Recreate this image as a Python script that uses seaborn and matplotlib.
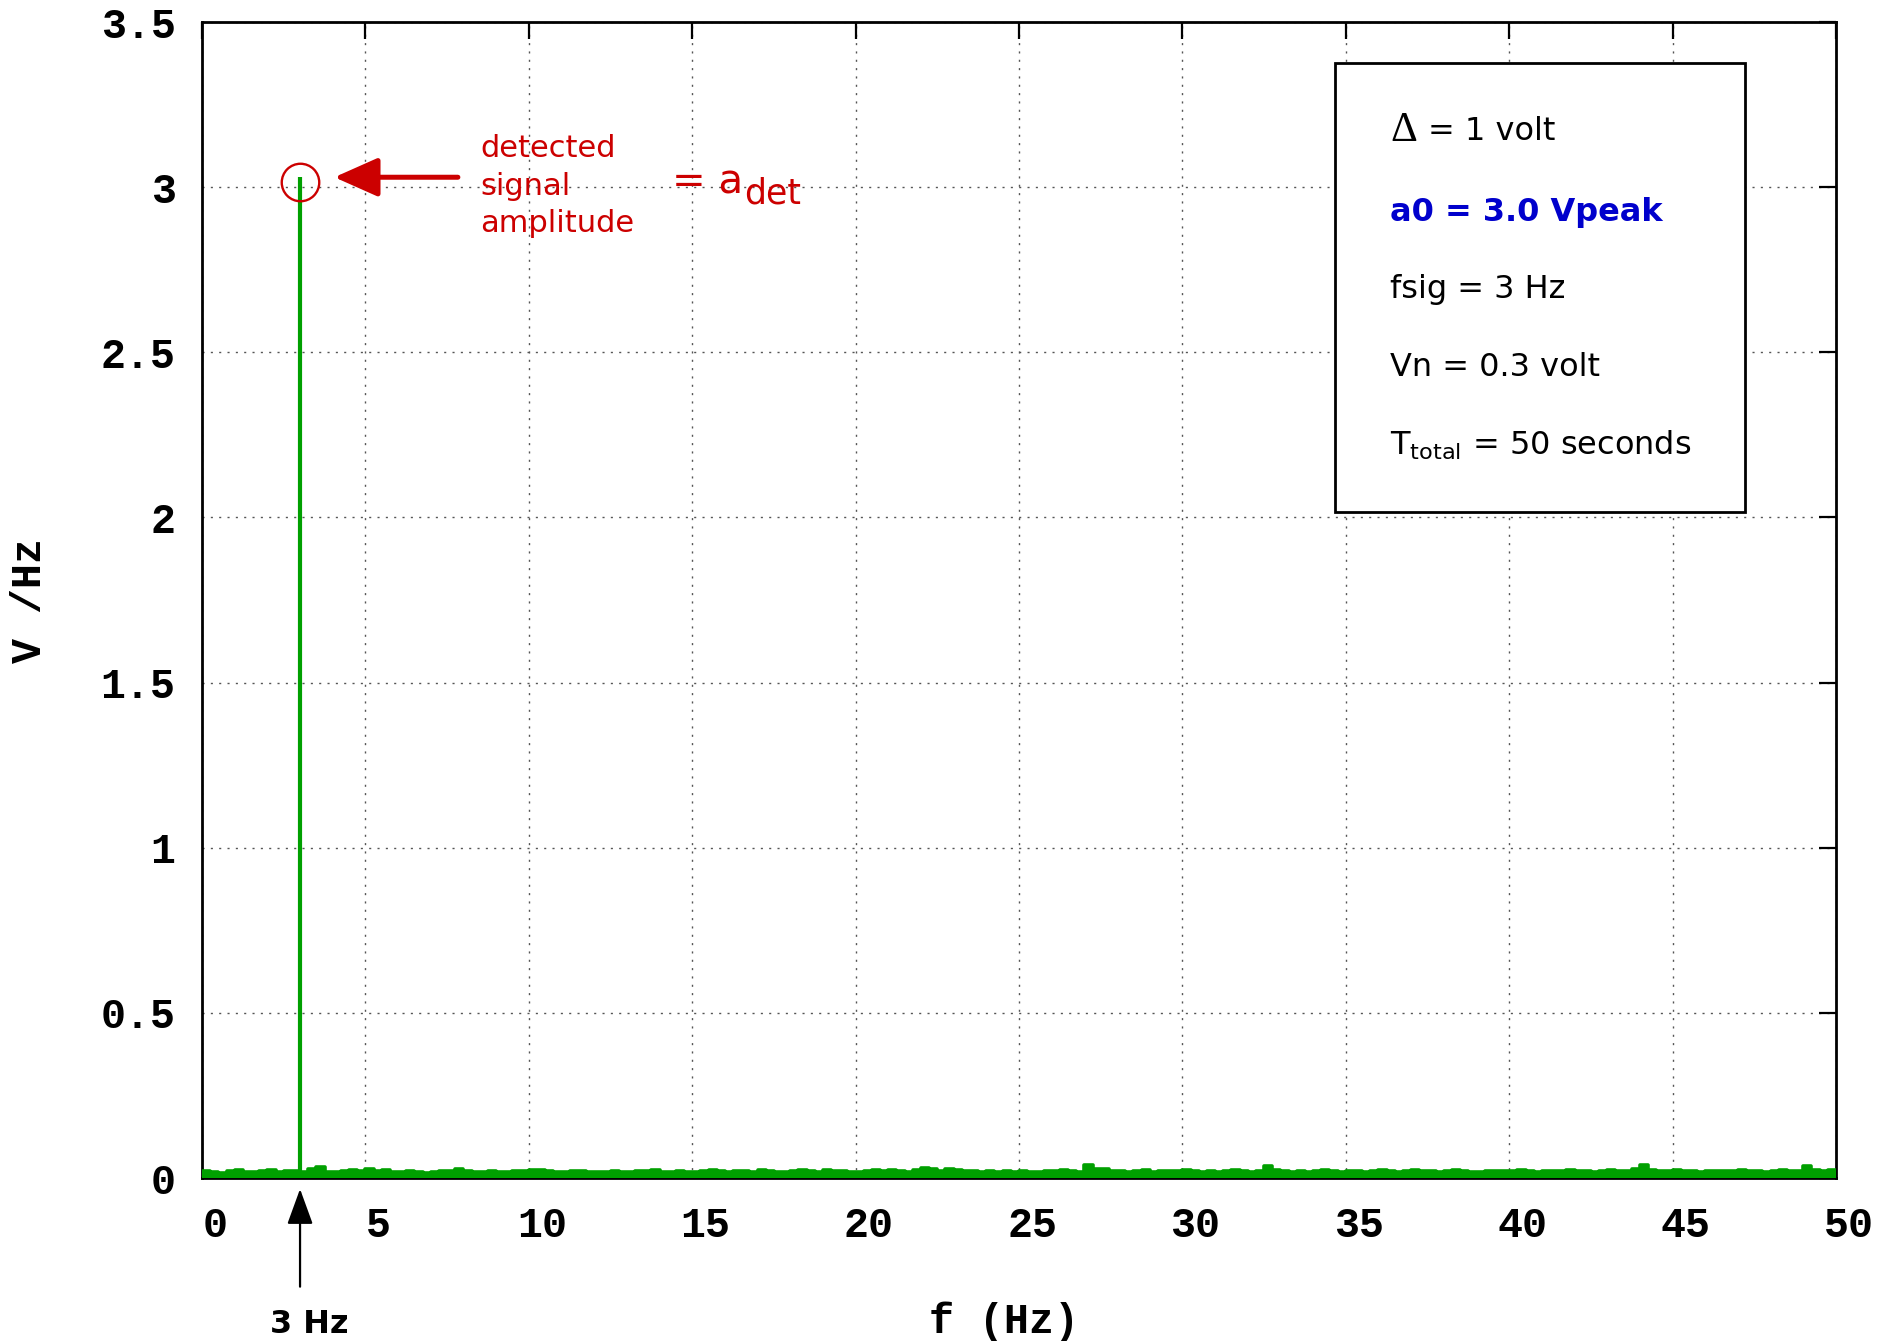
import numpy as np
import matplotlib
matplotlib.use("Agg")
import matplotlib.pyplot as plt
from matplotlib.transforms import ScaledTranslation
from matplotlib.patches import Rectangle
import seaborn as sns

# ---------------- data ----------------
x_ticks = [0, 5, 10, 15, 20, 25, 30, 35, 40, 45, 50]
x_tick_labels = ["0", "5", "10", "15", "20", "25", "30", "35", "40", "45", "50"]
y_ticks = [0, 0.5, 1, 1.5, 2, 2.5, 3, 3.5]
y_tick_labels = ["0", "0.5", "1", "1.5", "2", "2.5", "3", "3.5"]

signal_freq = 3.0      # Hz
signal_amp = 3.03      # detected peak

noise_step = 0.25      # Hz per bin (read at this resolution)
noise_amp = [
    0.022, 0.018, 0.016, 0.020, 0.024, 0.019, 0.017, 0.021, 0.023, 0.018,
    0.020, 0.022, 0.019, 0.026, 0.033, 0.018, 0.017, 0.020, 0.025, 0.022,
    0.026, 0.022, 0.024, 0.019, 0.017, 0.021, 0.018, 0.016, 0.019, 0.020,
    0.022, 0.028, 0.021, 0.018, 0.017, 0.020, 0.019, 0.018, 0.021, 0.022,
    0.023, 0.025, 0.021, 0.019, 0.018, 0.020, 0.022, 0.019, 0.017, 0.018,
    0.021, 0.019, 0.018, 0.020, 0.022, 0.023, 0.019, 0.018, 0.020, 0.017,
    0.019, 0.021, 0.024, 0.020, 0.018, 0.022, 0.021, 0.019, 0.023, 0.020,
    0.018, 0.017, 0.021, 0.024, 0.020, 0.018, 0.023, 0.021, 0.020, 0.019,
    0.018, 0.022, 0.023, 0.020, 0.025, 0.022, 0.019, 0.024, 0.030, 0.026,
    0.021, 0.028, 0.024, 0.020, 0.022, 0.019, 0.021, 0.018, 0.020, 0.019,
    0.021, 0.019, 0.018, 0.020, 0.022, 0.023, 0.021, 0.019, 0.040, 0.026,
    0.026, 0.022, 0.020, 0.018, 0.021, 0.023, 0.019, 0.020, 0.022, 0.021,
    0.023, 0.021, 0.019, 0.020, 0.018, 0.021, 0.023, 0.020, 0.019, 0.022,
    0.036, 0.024, 0.020, 0.018, 0.021, 0.019, 0.020, 0.023, 0.021, 0.019,
    0.020, 0.022, 0.019, 0.021, 0.023, 0.020, 0.018, 0.021, 0.024, 0.022,
    0.020, 0.019, 0.021, 0.023, 0.020, 0.018, 0.019, 0.021, 0.020, 0.022,
    0.020, 0.024, 0.021, 0.019, 0.022, 0.020, 0.021, 0.023, 0.022, 0.020,
    0.019, 0.021, 0.023, 0.020, 0.022, 0.028, 0.038, 0.025, 0.020, 0.021,
    0.023, 0.021, 0.020, 0.019, 0.022, 0.021, 0.020, 0.022, 0.024, 0.021,
    0.020, 0.019, 0.021, 0.023, 0.020, 0.022, 0.036, 0.024, 0.021, 0.025,
]

info_lines = ["= 1 volt", "a0 = 3.0 Vpeak", "fsig = 3 Hz", "Vn = 0.3 volt",
              r"$\mathregular{T_{total}}$ = 50 seconds"]

# ---------------- style ----------------
sns.set_style("white")
plt.rcParams["font.family"] = ["DejaVu Sans"]
plt.rcParams["text.color"] = "black"
plt.rcParams["axes.labelcolor"] = "black"
plt.rcParams["xtick.color"] = "black"
plt.rcParams["ytick.color"] = "black"

GREEN = "#00A000"
RED = "#CC0000"
BLUE = "#0000CC"
MONO = "Liberation Mono"

fig = plt.figure(figsize=(18.77, 13.41), dpi=100)
ax = fig.add_axes([0.10762, 0.12155, 0.87054, 0.86204])

# noise floor (dense impulses -> filled steps)
edges = np.arange(len(noise_amp) + 1) * noise_step
vals = np.array(noise_amp + [noise_amp[-1]])
ax.fill_between(edges, vals, step="post", color=GREEN, lw=0, zorder=3)
sns.lineplot(x=edges, y=vals, drawstyle="steps-post", color=GREEN, lw=2.6,
             ax=ax, zorder=3)

# signal impulse
ax.vlines(signal_freq, 0, signal_amp, color=GREEN, lw=3.0, zorder=4)
ax.plot([signal_freq], [signal_amp - 0.015], marker="o", ms=27, mfc="none",
        mec=RED, mew=1.7, zorder=5)

ax.set_xlim(0, 50)
ax.set_ylim(0, 3.5)
ax.set_xticks(x_ticks)
ax.set_xticklabels(x_tick_labels, fontfamily=MONO, fontweight="bold", fontsize=30,
                   color="black")
ax.set_yticks(y_ticks)
ax.set_yticklabels(y_tick_labels, fontfamily=MONO, fontweight="bold", fontsize=30,
                   color="black")
ax.tick_params(axis="both", direction="in", length=12, width=1.6,
               top=True, right=True, colors="black")
ax.tick_params(axis="x", pad=20)
ax.tick_params(axis="y", pad=19)
offset = ScaledTranslation(13 / 100, 0, fig.dpi_scale_trans)
for lab in ax.get_xticklabels():
    lab.set_transform(lab.get_transform() + offset)

ax.grid(True, linestyle=(0, (1.5, 4.5)), color="#555555", lw=1.0)
ax.set_axisbelow(True)
for sp in ax.spines.values():
    sp.set_visible(True)
    sp.set_color("black")
    sp.set_linewidth(2.0)

ax.set_xlabel("f (Hz)", fontfamily=MONO, fontweight="bold", fontsize=30,
              va="center", color="black")
ax.xaxis.set_label_coords(0.491, -0.124)
ax.set_ylabel("V /Hz", fontfamily=MONO, fontweight="bold", fontsize=30,
              va="center", color="black")
ax.yaxis.set_label_coords(-0.105, 0.5)

# red annotation
ax.annotate("", xy=(4.05, signal_amp), xytext=(7.83, signal_amp),
            arrowprops=dict(arrowstyle="-|>,head_length=0.45,head_width=0.2",
                            mutation_scale=60, color=RED, lw=3.6,
                            shrinkA=0, shrinkB=0), zorder=6)
for txt, yy in zip(["detected", "signal", "amplitude"], [0.8910, 0.8581, 0.8253]):
    ax.text(0.1701, yy, txt, transform=ax.transAxes, color=RED, fontsize=22,
            va="center", ha="left")
t1 = ax.text(0.2875, 0.8615, "= a", transform=ax.transAxes, color=RED,
             fontsize=29, va="center", ha="left")
ax.annotate("det", xy=(1, 0.22), xycoords=t1, xytext=(1, 0),
            textcoords="offset points", color=RED, fontsize=25,
            va="center", ha="left")

# 3 Hz arrow below axis
ax.annotate("", xy=(signal_freq, -0.0095), xytext=(signal_freq, -0.094),
            xycoords=("data", "axes fraction"), textcoords=("data", "axes fraction"),
            arrowprops=dict(arrowstyle="-|>,head_length=0.55,head_width=0.2",
                            mutation_scale=40, color="black", lw=1.6,
                            shrinkA=0, shrinkB=0), annotation_clip=False)
ax.text(0.0654, -0.1265, "3 Hz", transform=ax.transAxes, fontsize=23,
        fontweight="bold", ha="center", va="center", color="black")

# info box
ax.add_patch(Rectangle((0.6934, 0.5761), 0.2509, 0.3884, transform=ax.transAxes,
                       facecolor="white", edgecolor="black", lw=2.0, zorder=7))
ys = [0.9057, 0.8356, 0.7690, 0.7014, 0.6341]
ax.text(0.7271, ys[0], "Δ", transform=ax.transAxes, fontsize=30,
        fontfamily="Liberation Serif", va="center", ha="left", zorder=8,
        color="black")
ax.text(0.7503, ys[0], info_lines[0], transform=ax.transAxes, fontsize=23,
        va="center", ha="left", zorder=8, color="black")
ax.text(0.7271, ys[1], info_lines[1], transform=ax.transAxes, fontsize=23,
        fontweight="bold", color=BLUE, va="center", ha="left", zorder=8)
for line, yy in zip(info_lines[2:], ys[2:]):
    ax.text(0.7271, yy, line, transform=ax.transAxes, fontsize=23,
            va="center", ha="left", zorder=8, color="black")

fig.savefig("out.png", dpi=100)
